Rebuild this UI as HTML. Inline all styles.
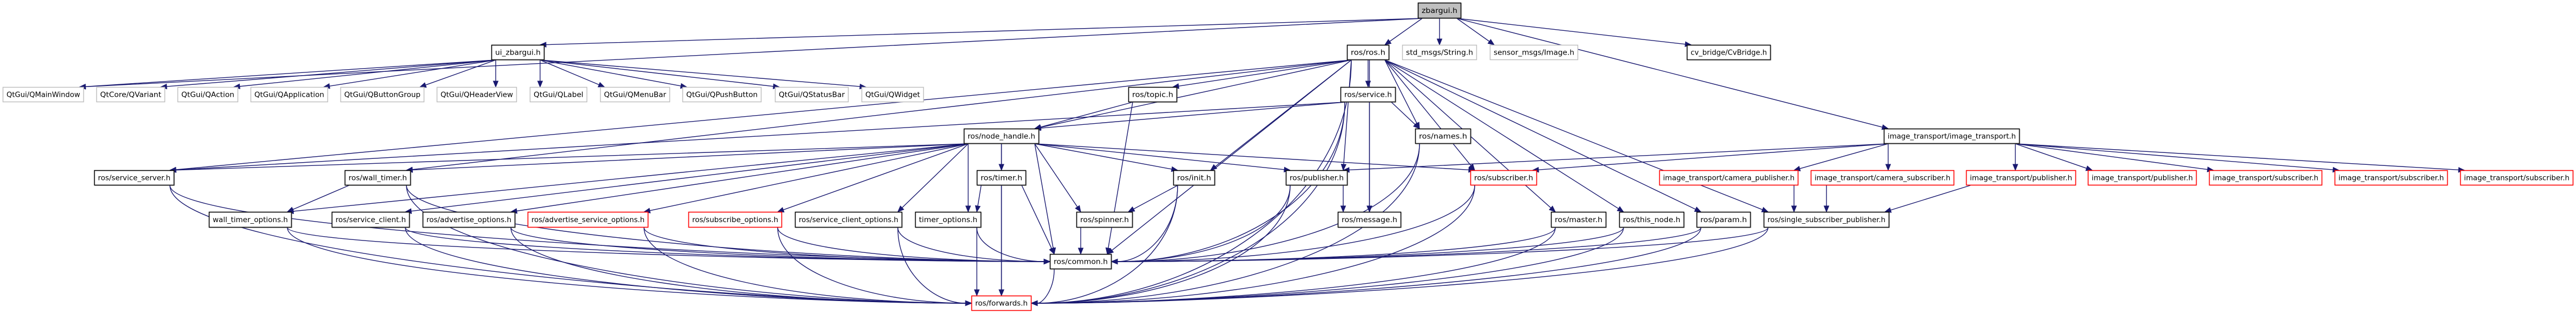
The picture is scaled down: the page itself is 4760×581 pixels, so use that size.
<!DOCTYPE html>
<html><head><meta charset="utf-8"><style>
html,body{margin:0;padding:0;background:#fff;width:4760px;height:581px;overflow:hidden}
svg{display:block}
text{font-family:"DejaVu Sans","Liberation Sans",sans-serif;font-size:13px;fill:#000}
</style></head><body>
<svg id="g" width="4760" height="581" xmlns="http://www.w3.org/2000/svg"></svg>
<script>
var R1=[5,34],R2=[83,111],R3=[161,189],R4=[238,266],R5=[315,343],R6=[392,421],R7=[470,498],R8=[547,575];
var N={
zb:["zbargui.h",2620,2700,R1,"m"],
ui:["ui_zbargui.h",908,1006,R2,"b"],
q1:["QtGui/QMainWindow",5,155,R3,"g"],
q2:["QtCore/QVariant",178,305,R3,"g"],
q3:["QtGui/QAction",328,440,R3,"g"],
q4:["QtGui/QApplication",463,606,R3,"g"],
q5:["QtGui/QButtonGroup",629,784,R3,"g"],
q6:["QtGui/QHeaderView",807,955,R3,"g"],
q7:["QtGui/QLabel",979,1085,R3,"g"],
q8:["QtGui/QMenuBar",1109,1238,R3,"g"],
q9:["QtGui/QPushButton",1261,1407,R3,"g"],
q10:["QtGui/QStatusBar",1432,1568,R3,"g"],
q11:["QtGui/QWidget",1592,1707,R3,"g"],
topic:["ros/topic.h",2085,2175,R3,"b"],
nh:["ros/node_handle.h",1781,1920,R4,"b"],
ros:["ros/ros.h",2489,2567,R2,"b"],
str:["std_msgs/String.h",2591,2729,R2,"g"],
img:["sensor_msgs/Image.h",2753,2916,R2,"g"],
cvb:["cv_bridge/CvBridge.h",3117,3272,R2,"b"],
svc:["ros/service.h",2477,2579,R3,"b"],
names:["ros/names.h",2615,2718,R4,"b"],
it:["image_transport/image_transport.h",3481,3732,R4,"b"],
ss:["ros/service_server.h",174,322,R5,"b"],
wt:["ros/wall_timer.h",637,759,R5,"b"],
wto:["wall_timer_options.h",386,539,R6,"b"],
sc:["ros/service_client.h",613,757,R6,"b"],
ao:["ros/advertise_options.h",781,952,R6,"b"],
aso:["ros/advertise_service_options.h",975,1198,R6,"r"],
so:["ros/subscribe_options.h",1272,1445,R6,"r"],
sco:["ros/service_client_options.h",1469,1667,R6,"b"],
to:["timer_options.h",1691,1813,R6,"b"],
spin:["ros/spinner.h",1989,2093,R6,"b"],
tim:["ros/timer.h",1805,1896,R5,"b"],
init:["ros/init.h",2168,2245,R5,"b"],
pub:["ros/publisher.h",2376,2490,R5,"b"],
com:["ros/common.h",1940,2054,R7,"b"],
fw:["ros/forwards.h",1795,1906,R8,"r"],
sub:["ros/subscriber.h",2717,2840,R5,"r"],
cp:["image_transport/camera_publisher.h",3066,3323,R5,"r"],
cs:["image_transport/camera_subscriber.h",3346,3611,R5,"r"],
msg:["ros/message.h",2472,2589,R6,"b"],
mas:["ros/master.h",2866,2968,R6,"b"],
tn:["ros/this_node.h",2992,3112,R6,"b"],
par:["ros/param.h",3135,3235,R6,"b"],
ssp:["ros/single_subscriber_publisher.h",3259,3491,R6,"b"],
ip1:["image_transport/publisher.h",3633,3836,R5,"r"],
ip2:["image_transport/publisher.h",3858,4059,R5,"r"],
is1:["image_transport/subscriber.h",4082,4291,R5,"r"],
is2:["image_transport/subscriber.h",4314,4523,R5,"r"],
is3:["image_transport/subscriber.h",4546,4755,R5,"r"]
};
var E=[
["zb","ui"],["zb","q1"],["zb","ros"],["zb","str"],["zb","img"],["zb","cvb"],["zb","it"],
["ui","q1"],["ui","q2"],["ui","q3"],["ui","q4"],["ui","q5"],["ui","q6"],["ui","q7"],["ui","q8"],["ui","q9"],["ui","q10"],["ui","q11"],
["ros","nh"],["ros","topic"],["ros","svc"],["ros","names"],["ros","ss"],["ros","pub"],["ros","sub"],["ros","init"],["ros","mas"],["ros","tn"],["ros","par"],["ros","ssp"],["ros","com"],["ros","fw"],["ros","msg"],["ros","wt"],
["topic","nh"],["topic","com"],
["svc","nh"],["svc","names"],["svc","msg"],["svc","com"],["svc","fw"],["svc","ss"],
["nh","ss"],["nh","wt"],["nh","wto"],["nh","sc"],["nh","ao"],["nh","aso"],["nh","so"],["nh","sco"],["nh","tim"],["nh","to"],["nh","spin"],["nh","init"],["nh","pub"],["nh","sub"],["nh","com"],["nh","fw"],
["ss","com"],["ss","fw"],["wt","wto"],["wt","com"],["wt","fw"],["wto","com"],["wto","fw"],
["sc","com"],["sc","fw"],["ao","com"],["ao","fw"],["aso","com"],["aso","fw"],["so","com"],["so","fw"],
["sco","com"],["sco","fw"],["tim","to"],["tim","com"],["tim","fw"],["to","com"],["to","fw"],["spin","com"],
["init","spin"],["init","com"],["init","fw"],["pub","msg"],["pub","com"],["pub","fw"],["sub","com"],["sub","fw"],
["names","com"],["names","fw"],["mas","com"],["mas","fw"],["tn","com"],["tn","fw"],["par","com"],["par","fw"],["ssp","com"],["ssp","fw"],
["it","pub"],["it","sub"],["it","cp"],["it","cs"],["it","ip1"],["it","ip2"],["it","is1"],["it","is2"],["it","is3"],
["cp","ssp"],["ip1","ssp"],["cs","ssp"],["com","fw"]
];
var NS="http://www.w3.org/2000/svg",g=document.getElementById("g");
function el(t,a){var e=document.createElementNS(NS,t);for(var k in a)e.setAttribute(k,a[k]);g.appendChild(e);return e;}
function cl(v,a,b){return Math.max(a,Math.min(b,v));}
var C="#191970";
E.forEach(function(e){
 var s=N[e[0]],t=N[e[1]];
 var sx=(s[1]+s[2])/2,sy=s[3][1],tx=(t[1]+t[2])/2,ty=t[3][0];
 var dx=tx-sx,dy=ty-sy,ex,ey,c1x,c1y,c2x,c2y;
 var side=(e[1]=="com"||e[1]=="fw")&&Math.abs(dx)>dy*1.5;
 sx=cl(tx,s[1]+8,s[2]-8);
 if(side){
   ey=(t[3][0]+t[3][1])/2;
   ex=dx>0?t[1]:t[2];
   c1x=sx;c1y=sy+(ey-sy)*0.6;
   c2x=ex-(dx>0?1:-1)*Math.min(Math.abs(ex-sx)*0.5,400);c2y=ey;
 } else {
   ex=cl(sx,t[1]+8,t[2]-8);ey=ty;
   var ddy=ey-sy,ddx=ex-sx;
   c1x=sx+ddx*0.3;c1y=sy+ddy*0.3;
   c2x=ex-ddx*0.3;c2y=ey-ddy*0.3;
 }
 var ux=ex-c2x,uy=ey-c2y,L=Math.sqrt(ux*ux+uy*uy)||1;ux/=L;uy/=L;
 var bx=ex-ux*11,by=ey-uy*11;
 el("path",{d:"M"+sx+","+sy+" C"+c1x+","+c1y+" "+c2x+","+c2y+" "+bx+","+by,fill:"none",stroke:C,"stroke-width":1.4});
 var px=-uy,py=ux;
 el("polygon",{points:ex+","+ey+" "+(bx+px*4.5)+","+(by+py*4.5)+" "+(bx-px*4.5)+","+(by-py*4.5),fill:C,stroke:C,"stroke-width":1});
});
for(var k in N){
 var n=N[k],x=n[1],w=n[2]-n[1],y=n[3][0],h=n[3][1]-n[3][0];
 var st=n[4];
 var stroke=st=="g"?"#bfbfbf":st=="r"?"#ff0000":"#000";
 var fill=st=="m"?"#bfbfbf":"#fff";
 el("rect",{x:x+0.5,y:y+0.5,width:w-1,height:h-1,fill:fill,stroke:stroke,"stroke-width":st=="g"?1.5:1.6});
 if(st=="b"||st=="m")el("path",{d:"M"+(x+1)+","+(y+h)+" H"+(x+w)+" V"+(y+1),fill:"none",stroke:"#333","stroke-width":1.2});
 var t=el("text",{x:x+w/2,y:y+h/2+4.5,"text-anchor":"middle",textLength:w-14,lengthAdjust:"spacingAndGlyphs"});
 t.textContent=n[0];
}
</script>
</body></html>
